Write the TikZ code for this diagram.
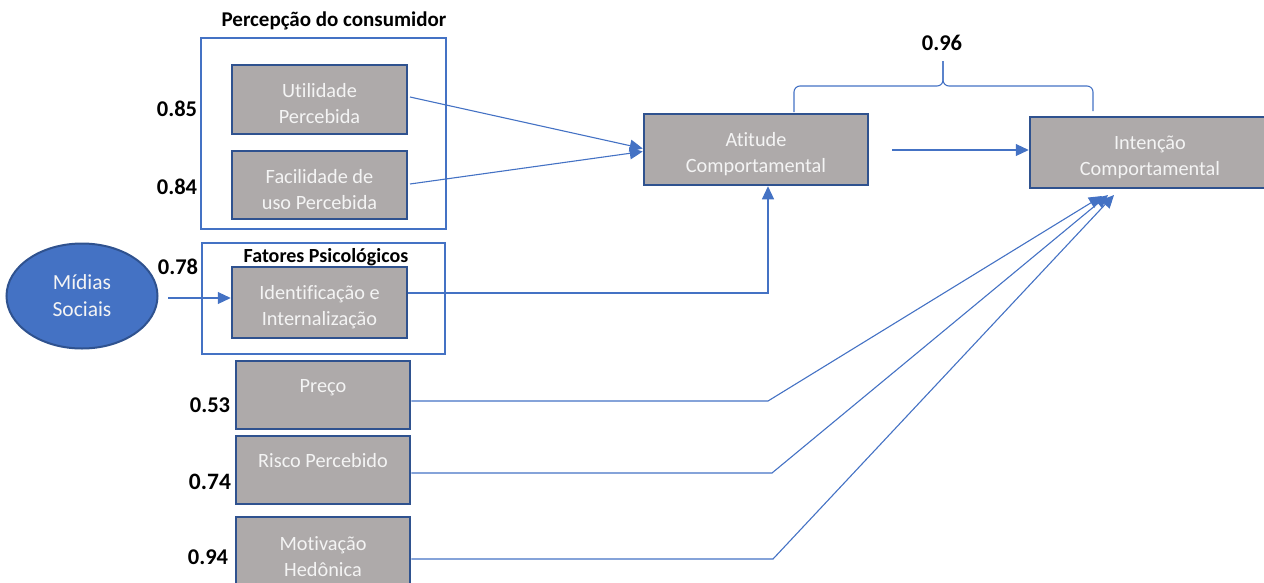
\documentclass[tikz,border=0pt]{standalone}
\usepackage{fontspec}
\setmainfont{Carlito}[Ligatures=NoCommon]
\usetikzlibrary{arrows.meta,shapes.geometric}
\definecolor{lineblue}{HTML}{4472C4}
\definecolor{boxborder}{HTML}{2F528F}
\definecolor{boxfill}{HTML}{AEAAAA}
\definecolor{boxtext}{HTML}{F4F4F4}
\newcommand{\topgap}{\rule{0pt}{23pt}}
\tikzset{
  gbox/.style={draw=boxborder, line width=2.5pt, fill=boxfill, text=boxtext, align=center,
    inner sep=0pt, font=\fontsize{20.3}{26}\selectfont},
  gtext/.style={text=boxtext, align=center, inner sep=0pt, font=\fontsize{20.3}{26}\selectfont},
  group/.style={draw=lineblue, line width=2pt},
  title/.style={font=\bfseries\fontsize{21}{24}\selectfont, inner sep=0pt},
  val/.style={font=\bfseries\fontsize{22.5}{24}\selectfont, inner sep=0pt},
  conn/.style={draw=lineblue, line width=1.1pt},
  arr/.style={conn, -{Triangle[length=13pt,width=12pt]}},
}
\begin{document}
\begin{tikzpicture}[x=1pt,y=-1pt]
\clip (0,0) rectangle (1264,582);
% group boxes
\node[title] (t1) at (334,21) {Percepção do consumidor};
\draw[group] (201,38) rectangle (446,229);
\draw[group] (202,243) rectangle (445,354);
\node[title, font=\bfseries\fontsize{20}{24}\selectfont] (t2) at (326,257) {Fatores Psicológicos};
% boxes
\node[gbox, minimum width=175, minimum height=69] (util) at (319.5,99.5) {\topgap Utilidade\\Percebida};
\node[gbox, minimum width=175, minimum height=68] (facil) at (319.5,185) {\topgap Facilidade de\\uso Percebida};
\node[gbox, minimum width=175, minimum height=71] (ident) at (319.5,302.5) {\topgap Identificação e\\Internalização};
\node[gbox, minimum width=174, minimum height=68] (preco) at (323,395) {};
\node[gtext] (precot) at (323,388) {Preço};
\node[gbox, minimum width=174, minimum height=68] (risco) at (323,470) {};
\node[gtext] (riscot) at (323,461) {Risco Percebido};
\node[gbox, minimum width=174, minimum height=70] (motiv) at (323,552) {\topgap Motivação\\Hedônica};
\node[gbox, minimum width=224, minimum height=71] (atit) at (756,149.5) {\topgap Atitude\\Comportamental};
\node[gbox, minimum width=240, minimum height=71] (intent) at (1150,152.5) {\topgap Intenção\\Comportamental};
% ellipse
\node[ellipse, draw=boxborder, line width=2pt, fill=lineblue, text=boxtext, align=center,
  minimum width=151, minimum height=105, inner sep=0pt, font=\fontsize{21.5}{27}\selectfont] (midias) at (82,296) {Mídias\\Sociais};
% values
\node[val] (v85) at (177,109) {0.85};
\node[val] (v84) at (177,187) {0.84};
\node[val] (v78) at (178,267) {0.78};
\node[val] (v53) at (210,405) {0.53};
\node[val, font=\bfseries\fontsize{23.5}{26}\selectfont] (v74) at (210,482) {0.74};
\node[val] (v94) at (208,557) {0.94};
\node[val] (v96) at (942,43) {0.96};
% connectors
\coordinate (u0) at (410,97);
\coordinate (f0) at (410,184);
\draw[arr] (u0) -- ([yshift=1pt]atit.west);
\draw[arr] (f0) -- ([yshift=-2pt]atit.west);
\coordinate (m0) at (168,298);
\draw[arr] (m0) -- (ident.west |- m0);
\coordinate (b1) at (768,293);
\draw[arr] (ident.east |- b1) -- (b1) -- (atit.south -| b1);
\coordinate (a0) at (892,150);
\draw[arr] (a0) -- (intent.west |- a0);
\coordinate (p1) at (768,401);
\coordinate (p2) at (772,473);
\coordinate (p3) at (773,559);
\coordinate (e1) at (1102,196);
\coordinate (e2) at (1108,195);
\coordinate (e3) at (1114,195);
\draw[arr] (preco.east |- p1) -- (p1) -- (e1);
\draw[arr] (risco.east |- p2) -- (p2) -- (e2);
\draw[arr] (motiv.east |- p3) -- (p3) -- (e3);
% brace
\coordinate (bl) at (794,112);
\coordinate (br) at (1093,111);
\coordinate (bm) at (943,86);
\coordinate (bt) at (943,61);
\draw[conn, rounded corners=6pt] (bl) |- (bm) -- (bt);
\draw[conn, rounded corners=6pt] (br) |- (bm) -- (bt);
\end{tikzpicture}
\end{document}
